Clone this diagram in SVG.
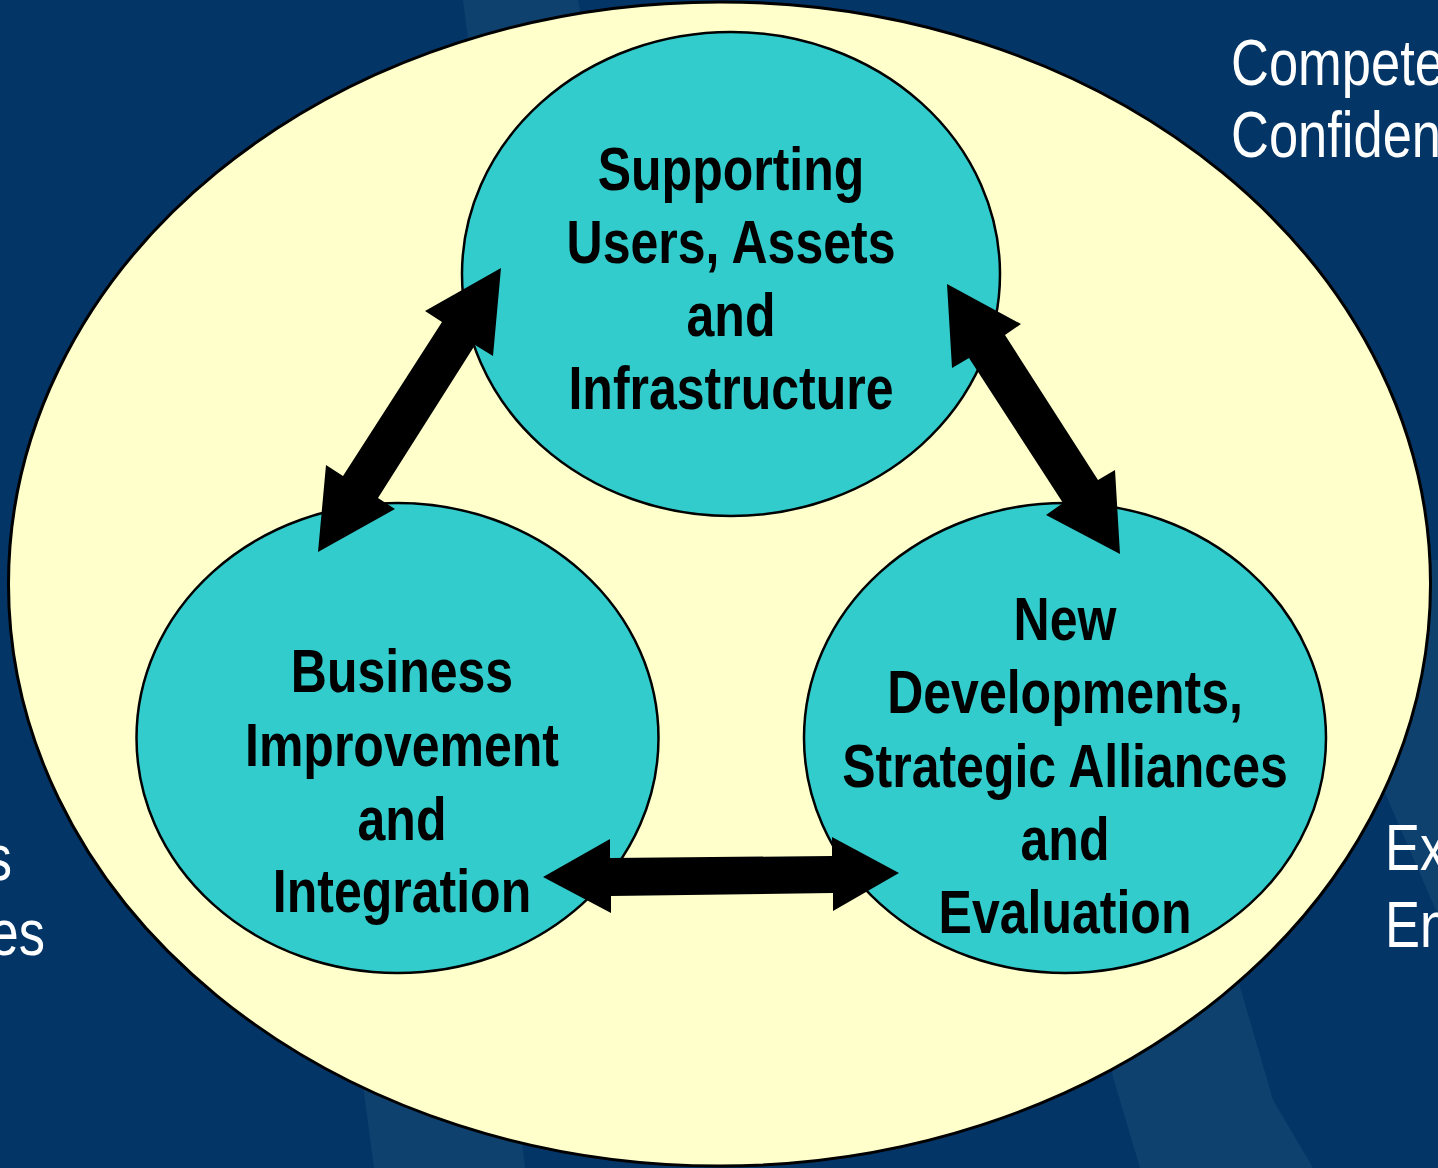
<svg xmlns="http://www.w3.org/2000/svg" width="1438" height="1168" viewBox="0 0 1438 1168">
<style>
.bg{fill:#033567}
.streak{fill:#0f416f}
.outer{fill:#ffffcc;stroke:#000;stroke-width:3}
.node{fill:#33cccc;stroke:#000;stroke-width:2.5}
.lbl{font-family:'Liberation Sans',Arial,sans-serif;font-weight:bold;font-size:61px;fill:#000;text-anchor:middle}
.wt{font-family:'Liberation Sans',Arial,sans-serif;font-size:64px;fill:#fff}
.arrow{fill:#000}
</style>
<rect class="bg" x="0" y="0" width="1438" height="1168"/>
<g id="background-streaks">
<polygon class="streak" points="463,0 578,0 590,70 472,70"/>
<polygon class="streak" points="345,950 500,950 525,1168 374,1168"/>
<polygon class="streak" points="1080,900 1225,900 1240,987 1273,1100 1313,1168 1140,1168 1113,1077"/>
<polygon class="streak" points="1370,760 1385,793 1438,915 1438,560 1428,560"/>
</g>
<g id="side-texts">
<g transform="translate(1231 0) scale(0.82 1)">
<text class="wt" x="0" y="85">Compete</text>
<text class="wt" x="0" y="157">Confiden</text>
</g>
<g transform="translate(12 0) scale(0.82 1)">
<text class="wt" x="0" y="880" text-anchor="end">s</text>
</g>
<g transform="translate(45 0) scale(0.82 1)">
<text class="wt" x="0" y="955" text-anchor="end">es</text>
</g>
<g transform="translate(1385 0) scale(0.82 1)">
<text class="wt" x="0" y="870">Ex</text>
<text class="wt" x="0" y="947">En</text>
</g>
</g>
<g id="context">
<ellipse class="outer" cx="719.5" cy="584" rx="711" ry="582"/>
</g>
<g id="node-supporting">
<ellipse class="node" cx="731" cy="274" rx="269" ry="242"/>
<g transform="translate(731 0) scale(0.82 1)">
<text class="lbl" x="0" y="190">Supporting</text>
<text class="lbl" x="0" y="263">Users, Assets</text>
<text class="lbl" x="0" y="336">and</text>
<text class="lbl" x="0" y="409">Infrastructure</text>
</g>
</g>
<g id="node-business">
<ellipse class="node" cx="397.5" cy="738" rx="261" ry="235"/>
<g transform="translate(402 0) scale(0.82 1)">
<text class="lbl" x="0" y="692">Business</text>
<text class="lbl" x="0" y="766">Improvement</text>
<text class="lbl" x="0" y="840">and</text>
<text class="lbl" x="0" y="912">Integration</text>
</g>
</g>
<g id="node-new">
<ellipse class="node" cx="1065" cy="738" rx="261" ry="235"/>
<g transform="translate(1065 0) scale(0.82 1)">
<text class="lbl" x="0" y="640">New</text>
<text class="lbl" x="0" y="713">Developments,</text>
<text class="lbl" x="0" y="787">Strategic Alliances</text>
<text class="lbl" x="0" y="860">and</text>
<text class="lbl" x="0" y="933">Evaluation</text>
</g>
</g>
<g id="connectors">
<polygon class="arrow" points="501,268 493,356 475,345 378,498 395,509 318,552 326,465 343,476 442,322 425,311"/>
<polygon class="arrow" points="947,284 1021,324 1005,335 1098,480 1115,470 1120,554 1046,515 1063,503 969,358 952,368"/>
<polygon class="arrow" points="543,877 610,839 610,858 832,856 832,837 899,873 833,911 833,893 611,896 611,913"/>
</g>
</svg>
